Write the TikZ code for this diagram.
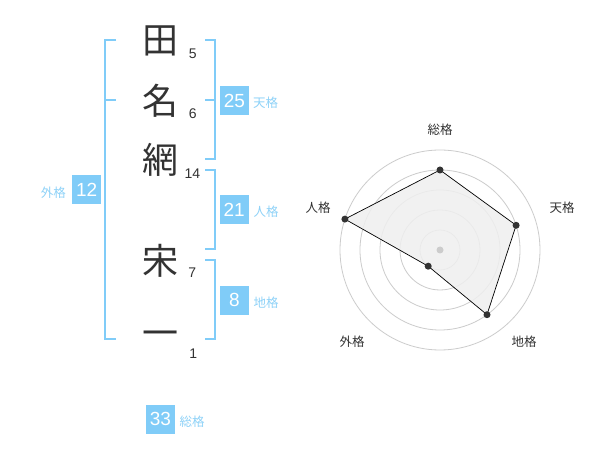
\documentclass[tikz,border=0pt]{standalone}
\usepackage{fontspec}
\setmainfont{Noto Sans CJK JP}
\newfontfamily\digits{Liberation Sans}
\definecolor{kblue}{HTML}{80CCF8}
\definecolor{klabel}{HTML}{8ED2F8}
\definecolor{namegray}{HTML}{333333}
\definecolor{ringgray}{HTML}{CCCCCC}
\definecolor{polyfill}{HTML}{EFEFEF}
\tikzset{
  namechar/.style={font=\fontsize{36}{36}\selectfont, text=namegray, inner sep=0pt},
  strokecount/.style={font=\digits\fontsize{14}{14}\selectfont, text=namegray, inner sep=0pt},
  bracket/.style={draw=kblue, line width=2pt},
  scorebox/.style={fill=kblue, text=white, minimum width=29pt, minimum height=29pt, inner sep=0pt, font=\digits\fontsize{19}{19}\selectfont},
  kakulabel/.style={text=klabel, font=\fontsize{12.5}{12.5}\selectfont, inner sep=0pt},
  ring/.style={draw=ringgray, line width=0.8pt},
  radarlabel/.style={text=namegray, font=\fontsize{12.5}{12.5}\selectfont, inner sep=0pt},
  rdot/.style={circle, fill=namegray, inner sep=0pt, minimum size=7pt},
}
\begin{document}
\begin{tikzpicture}[x=1pt,y=-1pt]
\useasboundingbox[fill=white] (0,0) rectangle (600,470);

% name characters
\node[namechar] (c1) at (160,40.5) {田};
\node[namechar] (c2) at (160,100.5) {名};
\node[namechar] (c3) at (160,159.5) {網};
\node[namechar] (c4) at (160,260.5) {宋};
\node[namechar] (c5) at (160,339) {一};

% stroke counts
\node[strokecount] (n1) at (192.7,53.3) {5};
\node[strokecount] (n2) at (192.7,113.3) {6};
\node[strokecount] (n3) at (192.3,173.3) {14};
\node[strokecount] (n4) at (192.3,272.3) {7};
\node[strokecount] (n5) at (193.3,353.3) {1};

% brackets
\draw[bracket] (116,40) -- (105,40) -- (105,339.5) -- (116,339.5);
\draw[bracket] (105,100) -- (116,100);
\draw[bracket] (205,40) -- (214.5,40) -- (214.5,159.5) -- (205,159.5);
\draw[bracket] (205,100) -- (214.5,100);
\draw[bracket] (205,170) -- (214.5,170) -- (214.5,249.5) -- (205,249.5);
\draw[bracket] (205,260) -- (214.5,260) -- (214.5,339.5) -- (205,339.5);

% score boxes
\node[scorebox] (ten) at (234.5,100.5) {25};
\node[kakulabel, anchor=west] (tenl) at (253,102.5) {天格};
\node[scorebox] (jin) at (234.2,209.7) {21};
\node[kakulabel, anchor=west] (jinl) at (253.5,212) {人格};
\node[scorebox] (chi) at (234.5,300.3) {8};
\node[kakulabel, anchor=west] (chil) at (253.5,303) {地格};
\node[scorebox] (gai) at (86.7,190) {12};
\node[kakulabel, anchor=east] (gail) at (66,192.5) {外格};
\node[scorebox] (sou) at (160.5,419) {33};
\node[kakulabel, anchor=west] (soul) at (179.5,421.5) {総格};

% radar chart
\foreach \r in {20,40,60,80,100} \draw[ring] (440,250) circle[radius=\r];
\coordinate (p1) at (440,170);
\coordinate (p2) at (516.1,225.3);
\coordinate (p3) at (487.0,314.7);
\coordinate (p4) at (428.2,266.2);
\coordinate (p5) at (344.9,219.1);
\filldraw[fill=polyfill, fill opacity=0.85, draw=black, line width=0.7pt] (p1) -- (p2) -- (p3) -- (p4) -- (p5) -- cycle;
\node[circle, fill=ringgray, inner sep=0pt, minimum size=7pt] (ctr) at (440,250) {};
\node[rdot] (d1) at (p1) {};
\node[rdot] (d2) at (p2) {};
\node[rdot] (d3) at (p3) {};
\node[rdot] (d4) at (p4) {};
\node[rdot] (d5) at (p5) {};
\node[radarlabel] (l1) at (440,130) {総格};
\node[radarlabel] (l2) at (562,208) {天格};
\node[radarlabel] (l3) at (318,208) {人格};
\node[radarlabel] (l4) at (524,342) {地格};
\node[radarlabel] (l5) at (352,342) {外格};
\end{tikzpicture}
\end{document}
